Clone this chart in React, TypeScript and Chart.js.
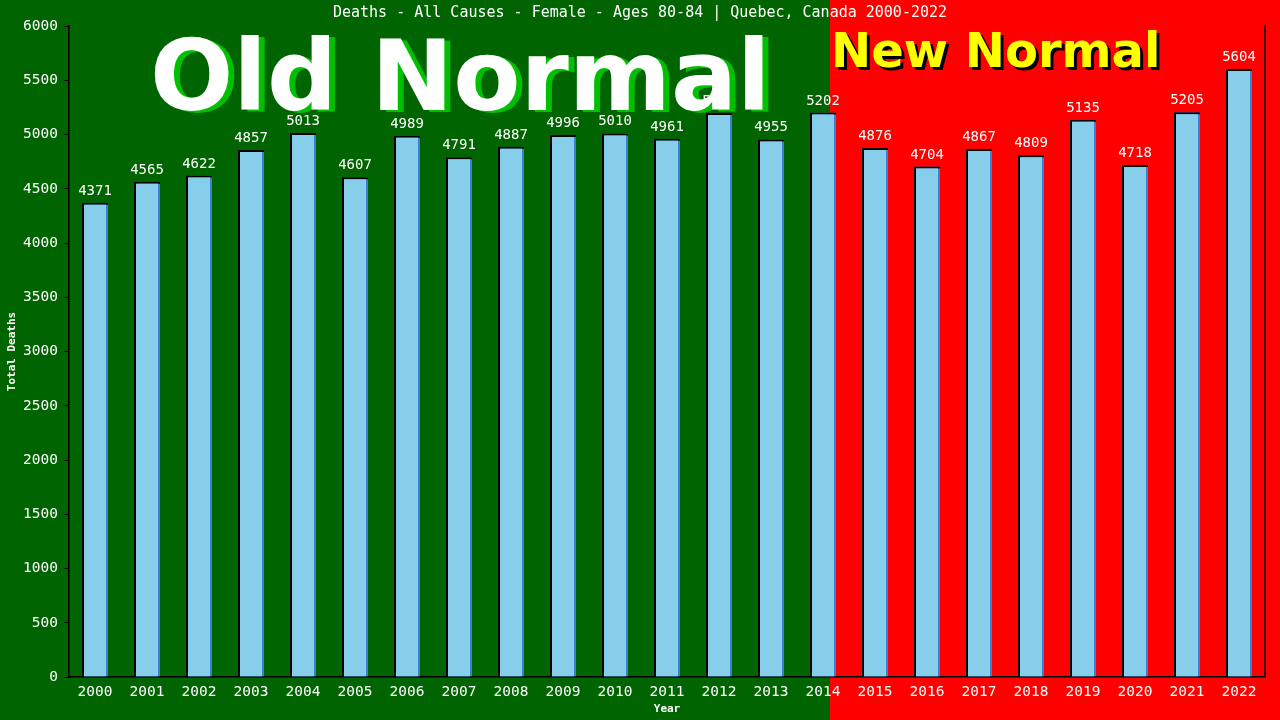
import { useEffect, useRef } from 'react';
import { Chart, registerables } from 'chart.js';

Chart.register(...registerables);

const years = [
  '2000', '2001', '2002', '2003', '2004', '2005', '2006', '2007', '2008', '2009', '2010', '2011',
  '2012', '2013', '2014', '2015', '2016', '2017', '2018', '2019', '2020', '2021', '2022',
];
const deaths = [
  4371, 4565, 4622, 4857, 5013, 4607, 4989, 4791, 4887, 4996, 5010, 4961,
  5198, 4955, 5202, 4876, 4704, 4867, 4809, 5135, 4718, 5205, 5604,
];
const titleText = 'Deaths - All Causes - Female - Ages 80-84 | Quebec, Canada 2000-2022';
const MONO = '"DejaVu Sans Mono", monospace';
const SANS_BOLD = 'bold 98px "DejaVu Sans", sans-serif';

// green/red halves, value labels, banner texts
const decorPlugin = {
  id: 'decor',
  beforeDraw(chart: any) {
    const { ctx, width, height } = chart;
    const split = chart.scales.x.getPixelForValue(14.135);
    ctx.save();
    ctx.fillStyle = '#006400';
    ctx.fillRect(0, 0, split, height);
    ctx.fillStyle = '#ff0000';
    ctx.fillRect(split, 0, width - split, height);
    ctx.restore();
  },
  beforeDatasetDraw(chart: any) {
    const ctx = chart.ctx;
    ctx.save();
    ctx.shadowColor = '#3d7fd6';
    ctx.shadowOffsetX = 2;
    ctx.shadowOffsetY = 0;
    ctx.shadowBlur = 0;
  },
  afterDatasetDraw(chart: any) {
    chart.ctx.restore();
  },
  afterDraw(chart: any) {
    const { ctx, chartArea } = chart;
    const meta = chart.getDatasetMeta(0);
    ctx.save();
    // right border
    ctx.strokeStyle = '#000';
    ctx.lineWidth = 1.5;
    ctx.beginPath();
    ctx.moveTo(chartArea.right, chartArea.top - 1);
    ctx.lineTo(chartArea.right, chartArea.bottom);
    ctx.stroke();

    ctx.fillStyle = '#fff';
    ctx.font = '14px ' + MONO;
    ctx.textAlign = 'center';
    ctx.textBaseline = 'alphabetic';
    meta.data.forEach((bar: any, i: number) => {
      ctx.fillText(String(deaths[i]), bar.x, bar.y - 8);
    });

    ctx.font = '15px ' + MONO;
    ctx.textBaseline = 'middle';
    ctx.fillText(titleText, chart.width / 2, 13);

    ctx.textAlign = 'left';
    ctx.textBaseline = 'alphabetic';
    ctx.font = SANS_BOLD;
    ctx.fillStyle = '#00c000';
    ctx.fillText('Old Normal', 156, 112);
    ctx.fillStyle = '#ffffff';
    ctx.fillText('Old Normal', 150, 110);

    ctx.font = 'bold 48px "DejaVu Sans", sans-serif';
    ctx.fillStyle = '#000';
    ctx.fillText('New Normal', 834, 70);
    ctx.fillStyle = '#ffff00';
    ctx.fillText('New Normal', 831, 67);
    ctx.restore();
  },
};

export default function App() {
  const canvasRef = useRef<HTMLCanvasElement>(null);

  useEffect(() => {
    if (!canvasRef.current) return;
    const chart = new Chart(canvasRef.current, {
      type: 'bar',
      data: {
        labels: years,
        datasets: [
          {
            label: 'Total Deaths',
            data: deaths,
            backgroundColor: '#87ceeb',
            borderColor: '#000',
            borderWidth: 2,
            borderSkipped: 'bottom',
            categoryPercentage: 1,
            barPercentage: 0.5,
          },
        ],
      },
      options: {
        responsive: false,
        animation: false,
        layout: { padding: { top: 26, right: 15, left: 0, bottom: 0 } },
        plugins: {
          legend: { display: false },
          tooltip: { enabled: false },
          title: { display: false },
        },
        scales: {
          x: {
            grid: { display: false, drawTicks: false },
            border: { display: true, color: '#000', width: 1.5 },
            ticks: { color: '#fff', font: { family: MONO, size: 14.5 }, padding: 7, maxRotation: 0, autoSkip: false },
            title: {
              display: true,
              text: 'Year',
              color: '#fff',
              font: { family: MONO, size: 11, weight: 'bold' },
              padding: { top: 0, bottom: 4 },
            },
            afterFit: (scale: any) => {
              scale.height = 43;
            },
          },
          y: {
            min: 0,
            max: 6000,
            grid: { display: true, drawOnChartArea: false, drawTicks: true, tickLength: 5, color: '#000' },
            border: { display: true, color: '#000', width: 1.5 },
            ticks: {
              stepSize: 500,
              color: '#fff',
              font: { family: MONO, size: 14.5 },
              padding: 6,
              callback: (v: any) => String(v),
            },
            title: {
              display: true,
              text: 'Total Deaths',
              color: '#fff',
              font: { family: MONO, size: 11, weight: 'bold' },
              padding: { top: 6, bottom: 0 },
            },
            afterFit: (scale: any) => {
              scale.width = 69;
            },
          },
        },
      },
      plugins: [decorPlugin],
    });
    return () => chart.destroy();
  }, []);

  return (
    <div style={{ position: 'fixed', left: 0, top: 0, width: 1280, height: 720 }}>
      <canvas ref={canvasRef} width={1280} height={720} />
    </div>
  );
}
